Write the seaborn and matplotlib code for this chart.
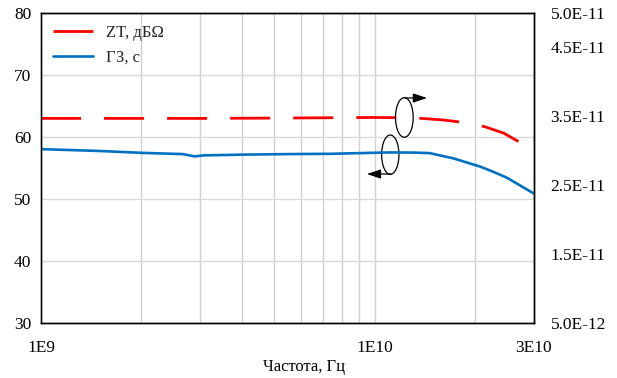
import matplotlib
matplotlib.use("Agg")
import matplotlib.pyplot as plt
from matplotlib.patches import Ellipse
from matplotlib.ticker import FixedLocator, NullFormatter
import seaborn as sns

# данные
freq_zt = [1e9, 2e9, 3e9, 5e9, 7e9, 1e10, 1.3e10, 1.6e10, 1.84e10, 2.14e10, 2.44e10, 2.76e10]
zt_db = [63.0, 63.0, 63.0, 63.05, 63.1, 63.15, 63.1, 62.75, 62.35, 61.65, 60.6, 58.95]

freq_gz = [1e9, 1.5e9, 2e9, 2.66e9, 2.89e9, 3.06e9, 4e9, 5.57e9, 7.34e9, 1.11e10,
           1.3e10, 1.46e10, 1.72e10, 2.07e10, 2.27e10, 2.49e10, 3e10]
gz_s = [3.024e-11, 2.997e-11, 2.97e-11, 2.952e-11, 2.918e-11, 2.933e-11, 2.944e-11,
        2.952e-11, 2.956e-11, 2.976e-11, 2.974e-11, 2.966e-11, 2.890e-11, 2.770e-11,
        2.693e-11, 2.608e-11, 2.378e-11]

x_ticks = [1e9, 1e10, 3e10]
x_labels = ["1E9", "1E10", "3E10"]
left_ticks = [30, 40, 50, 60, 70, 80]
right_ticks = [5e-12, 1.5e-11, 2.5e-11, 3.5e-11, 4.5e-11, 5e-11]
right_labels = ["5.0E-12", "1.5E-11", "2.5E-11", "3.5E-11", "4.5E-11", "5.0E-11"]

sns.set_theme(style="white")
plt.rcParams['font.family'] = ['Liberation Serif', 'DejaVu Serif']

fig = plt.figure(figsize=(6.17, 3.78), dpi=100)
ax = fig.add_axes([41 / 617, 1 - 323 / 378, 493 / 617, 310 / 378])
ax2 = ax.twinx()

sns.lineplot(x=freq_zt, y=zt_db, ax=ax, color='#ff0000', lw=2.0,
             linestyle=(0, (14.4, 8.3)), label='ZT, дБΩ', legend=False)
sns.lineplot(x=freq_gz, y=gz_s, ax=ax2, color='#0070c0', lw=1.9,
             label='ГЗ, с', legend=False)

ax.set_xscale('log')
ax.set_xlim(1e9, 3e10)
ax.set_ylim(30, 80)
ax2.set_ylim(5e-12, 5e-11)

ax.xaxis.set_major_locator(FixedLocator(x_ticks))
ax.set_xticklabels(x_labels)
ax.xaxis.set_minor_locator(FixedLocator([2e9, 3e9, 4e9, 5e9, 6e9, 7e9, 8e9, 9e9, 2e10]))
ax.xaxis.set_minor_formatter(NullFormatter())
ax.set_yticks(left_ticks)
ax2.set_yticks(right_ticks)
ax2.set_yticklabels(right_labels)

ax.tick_params(axis='x', which='both', length=0, pad=12, labelsize=12.5, colors='black')
ax.tick_params(axis='y', length=0, pad=7, labelsize=12.5, colors='black')
ax2.tick_params(axis='y', length=0, pad=12, labelsize=12.5, colors='black')

ax.grid(True, which='both', axis='x', color='#d0d0d0', lw=1.0)
ax.grid(True, which='major', axis='y', color='#d9d9d9', lw=1.0)
ax.set_axisbelow(True)

for a in (ax, ax2):
    for s in a.spines.values():
        s.set_color('black')
        s.set_linewidth(1.0)
ax.spines['left'].set_color('#555555')

ax.set_ylabel('')
ax2.set_ylabel('')
ax.set_xlabel('Частота, Гц', fontsize=12, color='black')
ax.xaxis.set_label_coords(0.534, -0.115)

h1, l1 = ax.get_legend_handles_labels()
h2, l2 = ax2.get_legend_handles_labels()
ax2.legend(h1 + h2, l1 + l2, loc='upper left', frameon=False, fontsize=12,
           handlelength=2.4, labelspacing=0.55, borderaxespad=0.3,
           bbox_to_anchor=(0.0, 1.0))

# эллипсы со стрелками, указывающие ось кривой
ax2.add_patch(Ellipse((0.737, 0.663), 0.0359, 0.1277, transform=ax2.transAxes,
                      fill=False, ec='black', lw=0.9))
ax2.add_patch(Ellipse((0.7085, 0.543), 0.0351, 0.1268, transform=ax2.transAxes,
                      fill=False, ec='black', lw=0.9))
arrow = dict(arrowstyle='-|>,head_length=0.6,head_width=0.2', color='black',
             lw=0.9, mutation_scale=14, shrinkA=0, shrinkB=0)
ax2.annotate('', xy=(0.783, 0.7258), xytext=(0.738, 0.7258),
             xycoords='axes fraction', arrowprops=arrow)
ax2.annotate('', xy=(0.661, 0.4806), xytext=(0.710, 0.4806),
             xycoords='axes fraction', arrowprops=arrow)

fig.savefig('out.png', dpi=100)
